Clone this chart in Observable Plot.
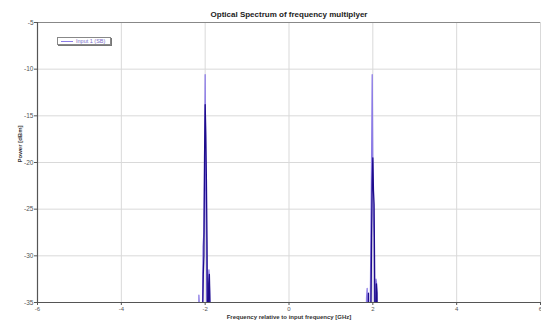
<!DOCTYPE html>
<html>
<head>
<meta charset="utf-8">
<script src="https://cdn.jsdelivr.net/npm/d3@7"></script>
<script src="https://cdn.jsdelivr.net/npm/@observablehq/plot@0.6"></script>
<style>
  body { margin: 0; background: #fff; }
  #wrap { position: relative; width: 541px; height: 322px; }
  #legend {
    position: absolute; left: 57px; top: 37px; width: 52px; height: 6px;
    border: 1px solid #888; background: #fff; box-shadow: 1px 1px 0 #777;
    font: 5.5px "Liberation Sans", Arial, sans-serif; color: #7a6cc8;
    display: flex; align-items: center; white-space: nowrap;
  }
  #legend .sw { display: inline-block; width: 12px; height: 1px; background: #8c7ce6; margin: 0 3px 0 3px; }
</style>
</head>
<body>
<div id="wrap"></div>
<script>
const titleText = "Optical Spectrum of frequency multiplyer";
const xLabel = "Frequency relative to input frequency [GHz]";
const yLabel = "Power [dBm]";
const legendLabel = "Input 1 (SB)";
const xTicks = [-6, -4, -2, 0, 2, 4, 6];
const yTicks = [-5, -10, -15, -20, -25, -30, -35];

// light purple trace
const freqLight = [-2.16, -2.15, -2.13, -2.12, -2.08, -2.05, -2.03, -2.015, -2.00, -1.985, -1.97, -1.95, -1.93, -1.91, -1.895, -1.88,
                   1.82, 1.85, 1.865, 1.88, 1.92, 1.955, 1.97, 1.985, 2.00, 2.015, 2.03, 2.045, 2.075, 2.09, 2.11];
const powLight  = [-45, -34.2, -36, -45, -45, -29, -27.5, -22, -10.6, -24, -28, -40, -33, -31.5, -34, -45,
                   -45, -34.5, -33.5, -45, -45, -27.5, -20, -10.6, -21, -26, -28, -45, -32.5, -33, -45];
// dark navy trace
const freqDark = [-2.09, -2.045, -2.03, -2.015, -2.00, -1.985, -1.97, -1.955, -1.94, -1.915, -1.9, -1.885, -1.87,
                  1.87, 1.895, 1.91, 1.94, 1.97, 1.985, 2.00, 2.015, 2.03, 2.045, 2.06, 2.085, 2.1, 2.12];
const powDark  = [-45, -32, -30, -19.5, -13.8, -17, -22, -29, -45, -33, -32, -35, -45,
                  -45, -34, -45, -45, -28, -22, -19.5, -23, -24.5, -33, -45, -33, -34, -45];

const light = freqLight.map((f, i) => ({f, p: powLight[i]}));
const dark = freqDark.map((f, i) => ({f, p: powDark[i]}));

const chart = Plot.plot({
  width: 541, height: 322,
  marginLeft: 37, marginRight: 1, marginTop: 22, marginBottom: 20,
  style: {fontFamily: "Liberation Sans, Arial, sans-serif", fontSize: "7px", background: "#fff"},
  x: {domain: [-6, 6], label: null},
  y: {domain: [-35, -5], label: null},
  marks: [
    Plot.ruleX(xTicks, {stroke: "#d9d9d9", strokeWidth: 1}),
    Plot.ruleY(yTicks, {stroke: "#d9d9d9", strokeWidth: 1}),
    Plot.line(light, {x: "f", y: "p", stroke: "#8c7ce6", strokeWidth: 1.3, clip: true}),
    Plot.line(dark, {x: "f", y: "p", stroke: "#1e0c8c", strokeWidth: 1.3, clip: true}),
    Plot.ruleY([-5], {stroke: "#888", strokeWidth: 1}),
    Plot.ruleY([-35], {stroke: "#555", strokeWidth: 1.2}),
    Plot.ruleX([-6], {stroke: "#555", strokeWidth: 1.2}),
    Plot.axisX({ticks: xTicks, tickSize: 3, tickPadding: 1, stroke: "#555", fill: "#555", fontSize: 6, tickFormat: d => String(d)}),
    Plot.axisY({ticks: yTicks, tickSize: 3, tickPadding: 1, stroke: "#555", fill: "#555", fontSize: 6.5, tickFormat: d => String(d)}),
    Plot.text([titleText], {frameAnchor: "top", dy: -11, fontWeight: "bold", fontSize: 8, fill: "#222"}),
    Plot.text([xLabel], {frameAnchor: "bottom", dy: 16, fontWeight: "bold", fontSize: 6, fill: "#333"}),
    Plot.text([yLabel], {frameAnchor: "left", dx: -17, rotate: -90, fontWeight: "bold", fontSize: 6, fill: "#333"})
  ]
});
const wrap = document.getElementById("wrap");
wrap.appendChild(chart);
const leg = document.createElement("div");
leg.id = "legend";
leg.innerHTML = `<span class="sw"></span><span>${legendLabel}</span>`;
wrap.appendChild(leg);
</script>
</body>
</html>
